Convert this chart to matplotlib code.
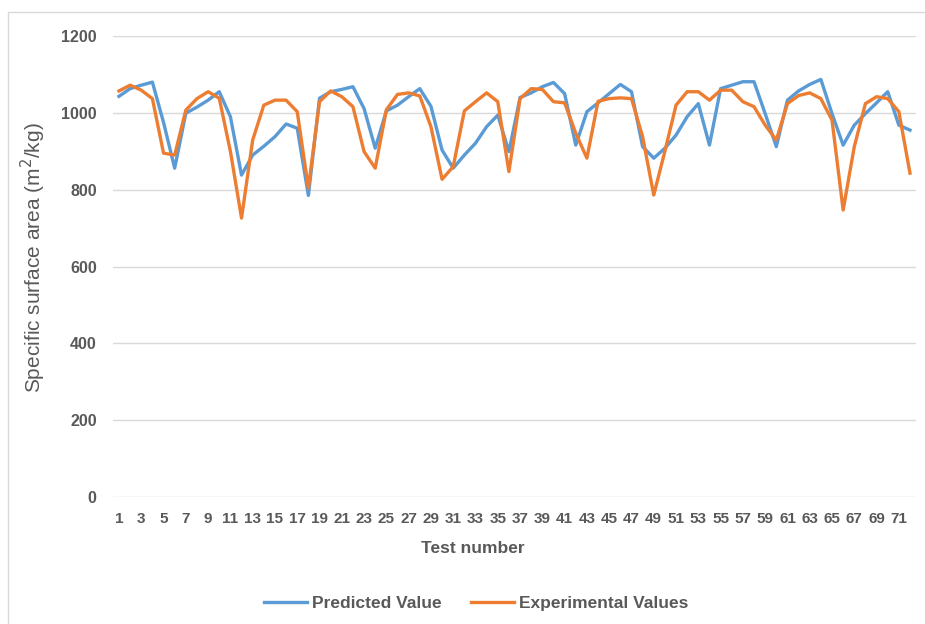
import matplotlib.pyplot as plt
from matplotlib.patches import Rectangle

# test numbers 1..72
tests = list(range(1, 73))

predicted = [1043, 1063, 1072, 1080, 975, 856, 999, 1015, 1033, 1055,
             990, 838, 890, 913, 938, 971, 960, 785, 1038, 1055,
             1061, 1068, 1011, 908, 1005, 1020, 1042, 1063, 1017, 903,
             856, 890, 921, 964, 994, 899, 1040, 1052, 1068, 1079,
             1050, 916, 1003, 1026, 1050, 1074, 1055, 912, 882, 908,
             942, 990, 1024, 916, 1063, 1072, 1081, 1081, 998, 912,
             1033, 1057, 1074, 1087, 998, 916, 968, 998, 1026, 1055,
             968, 955]

experimental = [1057, 1072, 1059, 1037, 895, 890, 1007, 1037, 1055, 1038,
                900, 726, 929, 1020, 1033, 1033, 1003, 804, 1029, 1057,
                1042, 1016, 899, 856, 1008, 1048, 1052, 1044, 964, 827,
                860, 1005, 1029, 1052, 1029, 847, 1037, 1063, 1061, 1029,
                1026, 947, 882, 1030, 1037, 1039, 1037, 938, 786, 900,
                1020, 1055, 1055, 1033, 1059, 1059, 1029, 1016, 968, 929,
                1024, 1045, 1052, 1037, 981, 747, 912, 1024, 1042, 1037,
                1003, 843]

yticks = [0, 200, 400, 600, 800, 1000, 1200]

grey = '#595959'
plt.rcParams['font.family'] = ['Liberation Sans Narrow', 'Liberation Sans', 'DejaVu Sans']

fig = plt.figure(figsize=(9.25, 6.24), dpi=100)
ax = fig.add_axes([0.1226, 0.2035, 0.8672, 0.7388])

ax.plot(tests, predicted, color='#5B9BD5', lw=2.4, label='Predicted Value')
ax.plot(tests, experimental, color='#ED7D31', lw=2.4, label='Experimental Values')

ax.set_xlim(0.5, 72.5)
ax.set_ylim(0, 1200)
ax.set_yticks(yticks)
ax.set_xticks(tests[::2])
ax.grid(axis='y', color='#D9D9D9', lw=1)
ax.set_axisbelow(True)
for s in ax.spines.values():
    s.set_visible(False)
ax.tick_params(axis='x', length=0, colors=grey, labelsize=11, pad=11)
ax.tick_params(axis='y', length=0, colors=grey, labelsize=11.5, pad=12)
for lbl in ax.get_xticklabels() + ax.get_yticklabels():
    lbl.set_fontweight('bold')

ax.set_ylabel('Specific surface area (m$^2$/kg)', color=grey, fontsize=15, labelpad=4)
ax.yaxis.set_label_coords(-0.082, 0.52)
ax.set_xlabel('Test number', color=grey, fontsize=12.5, fontweight='bold', labelpad=12)
ax.xaxis.set_label_coords((473 - 113.4) / 802.2, -0.095)

leg = fig.legend(loc='center', bbox_to_anchor=(476 / 925, 1 - 603 / 624), ncol=2,
                 frameon=False, handlelength=2.5, handletextpad=0.25,
                 columnspacing=1.7, prop={'size': 12.5, 'weight': 'bold'})
for t in leg.get_texts():
    t.set_color(grey)

# light outer frame (top and left edges are visible in the original)
fig.patches.append(Rectangle((8 / 925, -0.05), 1.0, 1 - 12 / 624 + 0.05,
                             transform=fig.transFigure, fill=False,
                             edgecolor='#D9D9D9', lw=1))

fig.savefig('out.png', dpi=100)
